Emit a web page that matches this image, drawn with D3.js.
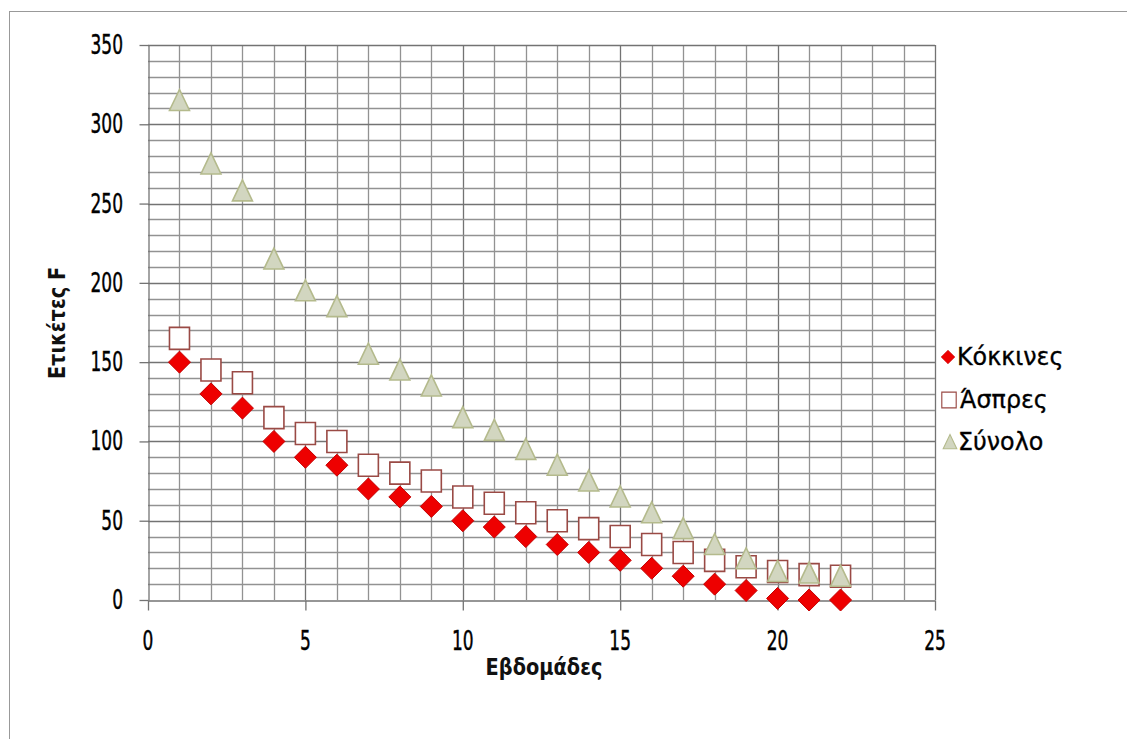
<!DOCTYPE html>
<html>
<head>
  <meta charset="utf-8">
  <script src="https://cdn.jsdelivr.net/npm/d3@7"></script>
  <style>
    body { margin: 0; background: #fff; }
    svg { display: block; }
    .lbl { font-family: "DejaVu Sans Condensed", "DejaVu Sans", sans-serif; font-size: 22px; fill: #000; stroke: #000; stroke-width: 0.35px; }
    .title { font-family: "DejaVu Sans Condensed", "DejaVu Sans", sans-serif; font-weight: bold; font-size: 20.5px; fill: #111; }
    .leg { font-family: "DejaVu Sans Condensed", "DejaVu Sans", sans-serif; font-size: 23px; fill: #000; stroke: #000; stroke-width: 0.3px; }
  </style>
</head>
<body>
<svg width="1127" height="739"></svg>
<script>
  const weeks = d3.range(1, 23);
  const kokkines = [150, 130, 121, 100, 90, 85, 70, 65, 59, 50, 46, 40, 35, 30, 25, 20, 15, 10, 6, 1, 0, 0];
  const aspres = [165, 145, 137, 115, 105, 100, 85, 80, 75, 65, 61, 55, 50, 45, 40, 35, 30, 25, 21, 18, 16, 15];
  const synolo = [315, 275, 258, 215, 195, 185, 155, 145, 135, 115, 107, 95, 85, 75, 65, 55, 45, 35, 26, 18, 17, 15];
  const seriesNames = ['Κόκκινες', 'Άσπρες', 'Σύνολο'];
  const xTicks = [0, 5, 10, 15, 20, 25];
  const yTicks = [0, 50, 100, 150, 200, 250, 300, 350];

  const svg = d3.select('svg');
  const plotL = 148, plotR = 935, plotT = 45, plotB = 600;

  // outer chart border
  svg.append('rect')
    .attr('x', 9.5).attr('y', 11.5)
    .attr('width', 1130).attr('height', 740)
    .attr('fill', 'none').attr('stroke', '#999');

  const x = d3.scaleLinear().domain([0, 25]).range([plotL, plotR]);
  const y = d3.scaleLinear().domain([0, 350]).range([plotB, plotT]);

  // gridlines
  const grid = svg.append('g');
  grid.selectAll('.vx')
    .data(d3.range(1, 26))
    .enter().append('line')
    .attr('x1', d => Math.round(x(d)) + 0.5).attr('x2', d => Math.round(x(d)) + 0.5)
    .attr('y1', plotT).attr('y2', plotB)
    .attr('stroke', d => d % 5 === 0 ? '#737373' : '#929292')
    .attr('stroke-width', 1.3);
  grid.selectAll('.hy')
    .data(d3.range(10, 351, 10))
    .enter().append('line')
    .attr('y1', d => Math.round(y(d)) + 0.5).attr('y2', d => Math.round(y(d)) + 0.5)
    .attr('x1', plotL).attr('x2', plotR)
    .attr('stroke', d => d % 50 === 0 ? '#737373' : '#929292')
    .attr('stroke-width', 1.3);

  // axes (lines and ticks), labels drawn narrow below
  const yAxis = svg.append('g')
    .attr('transform', `translate(${plotL + 0.5},0)`)
    .call(d3.axisLeft(y).tickValues(yTicks).tickSize(9).tickSizeOuter(0).tickFormat(''));
  const xAxis = svg.append('g')
    .attr('transform', `translate(0,${plotB + 0.5})`)
    .call(d3.axisBottom(x).tickValues(xTicks).tickSize(10).tickSizeOuter(0).tickFormat(''));
  [yAxis, xAxis].forEach(a => {
    a.select('.domain').attr('stroke', '#737373').attr('stroke-width', 1.3);
    a.selectAll('.tick line').attr('stroke', '#737373').attr('stroke-width', 1.3);
  });

  svg.append('g').selectAll('text')
    .data(yTicks)
    .enter().append('text')
    .attr('class', 'lbl')
    .attr('text-anchor', 'end')
    .attr('transform', d => `translate(123,${y(d) + 9}) scale(0.86,1.18)`)
    .text(d => d);
  svg.append('g').selectAll('text')
    .data(xTicks)
    .enter().append('text')
    .attr('class', 'lbl')
    .attr('text-anchor', 'middle')
    .attr('transform', d => `translate(${x(d)},650) scale(0.86,1.18)`)
    .text(d => d);

  // markers
  const diamond = 'M0,-11L11,0L0,11L-11,0Z';
  const square = 'M-10,-11H10V11H-10Z';
  const triangle = 'M0,-11L10,10H-10Z';

  const styles = [
    { path: diamond, fill: '#ee0000', stroke: '#c40000', sw: 1 },
    { path: square, fill: '#ffffff', stroke: '#9a4a45', sw: 1.6 },
    { path: triangle, fill: '#d2d6c0', stroke: '#b4ba8c', sw: 1.6 }
  ];
  const allSeries = [kokkines, aspres, synolo];

  allSeries.forEach((vals, s) => {
    svg.append('g').selectAll('path')
      .data(weeks.map((w, i) => ({ w, v: vals[i] })))
      .enter().append('path')
      .attr('d', styles[s].path)
      .attr('transform', d => `translate(${x(d.w)},${y(d.v)})`)
      .attr('fill', styles[s].fill)
      .attr('stroke', styles[s].stroke)
      .attr('stroke-width', styles[s].sw);
  });

  // axis titles
  svg.append('text').attr('class', 'title')
    .attr('text-anchor', 'middle')
    .attr('transform', 'translate(544,675) scale(1.05,1.15)')
    .text('Εβδομάδες');
  svg.append('text').attr('class', 'title')
    .attr('transform', 'translate(65,323) rotate(-90) scale(1.05,1.15)')
    .attr('text-anchor', 'middle')
    .text('Ετικέτες F');

  // legend
  const legY = [357, 400, 442];
  const legScale = [0.62, 0.72, 0.68];
  const leg = svg.append('g');
  seriesNames.forEach((name, i) => {
    leg.append('path')
      .attr('d', styles[i].path)
      .attr('transform', `translate(${948 + i},${legY[i]}) scale(${legScale[i]})`)
      .attr('fill', styles[i].fill)
      .attr('stroke', styles[i].stroke)
      .attr('stroke-width', styles[i].sw);
    leg.append('text').attr('class', 'leg')
      .attr('transform', `translate(${957 + (i === 1 ? 3 : i === 2 ? 1 : 0)},${legY[i] + 8}) scale(1.15,1.1)`)
      .text(name);
  });
</script>
</body>
</html>
